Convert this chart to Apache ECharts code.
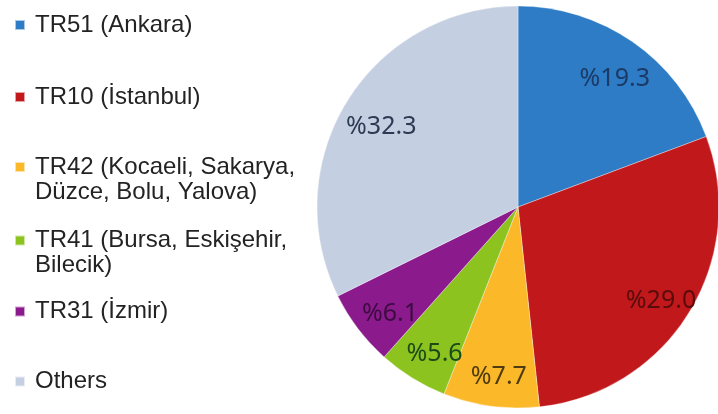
<!DOCTYPE html>
<html>
<head>
<meta charset="utf-8">
<script src="https://cdn.jsdelivr.net/npm/echarts@6/dist/echarts.min.js"></script>
<style>
html,body{margin:0;padding:0;background:#fff;}
#c{width:718px;height:414px;}
</style>
</head>
<body>
<div id="c"></div>
<script>
const categories = [
  'TR51 (Ankara)',
  'TR10 (İstanbul)',
  'TR42 (Kocaeli, Sakarya,\nDüzce, Bolu, Yalova)',
  'TR41 (Bursa, Eskişehir,\nBilecik)',
  'TR31 (İzmir)',
  'Others'
];
const shares = [19.3, 29.0, 7.7, 5.6, 6.1, 32.3];
const sliceColors = ['#2d7cc5', '#c0181b', '#fbb829', '#8cc31f', '#8b1a8c', '#c5cfe2'];
const labelColors = ['#1c3a66', '#5a0c0c', '#4e3c10', '#1c4a1a', '#3c0c40', '#2c3a52'];

const legendTops = [12.5, 84.5, 129.5, 203, 299, 369];

const chart = echarts.init(document.getElementById('c'), null, {renderer: 'canvas'});

const pieData = categories.map((n, i) => ({
  name: n, value: shares[i], itemStyle: {color: sliceColors[i]}
}));
const labelData = categories.map((n, i) => ({
  name: n, value: shares[i],
  label: {color: labelColors[i]}
}));

const legends = categories.map((n, i) => ({
  orient: 'vertical',
  left: 14,
  top: legendTops[i],
  padding: 0,
  itemWidth: 10,
  itemHeight: 10,
  icon: 'rect',
  selectedMode: false,
  data: [n],
  formatter: name => name.indexOf('\n') >= 0 ? '\n' + name : name,
  textStyle: {
    fontFamily: 'Liberation Sans, Arial, sans-serif',
    fontSize: 24,
    lineHeight: 25,
    color: '#232323',
    padding: [0, 0, 0, 5]
  }
}));

chart.setOption({
  animation: false,
  backgroundColor: '#ffffff',
  legend: legends,
  series: [
    {
      type: 'pie',
      center: [518, 207],
      radius: [0, 201],
      startAngle: 90,
      clockwise: true,
      silent: true,
      label: {show: false},
      labelLine: {show: false},
      itemStyle: {borderColor: 'rgba(255,255,255,0.6)', borderWidth: 0.6},
      emphasis: {disabled: true},
      data: pieData
    },
    {
      type: 'pie',
      center: [518, 207],
      radius: [122, 201],
      startAngle: 90,
      clockwise: true,
      silent: true,
      itemStyle: {color: 'rgba(0,0,0,0)'},
      emphasis: {disabled: true},
      labelLine: {show: false},
      label: {
        show: true,
        position: 'inside',
        offset: [3, 7],
        formatter: p => '%' + p.value.toFixed(1),
        fontFamily: 'Noto Sans, Liberation Sans, sans-serif',
        fontSize: 25,
        fontWeight: 'normal'
      },
      data: labelData
    }
  ]
});
</script>
</body>
</html>
